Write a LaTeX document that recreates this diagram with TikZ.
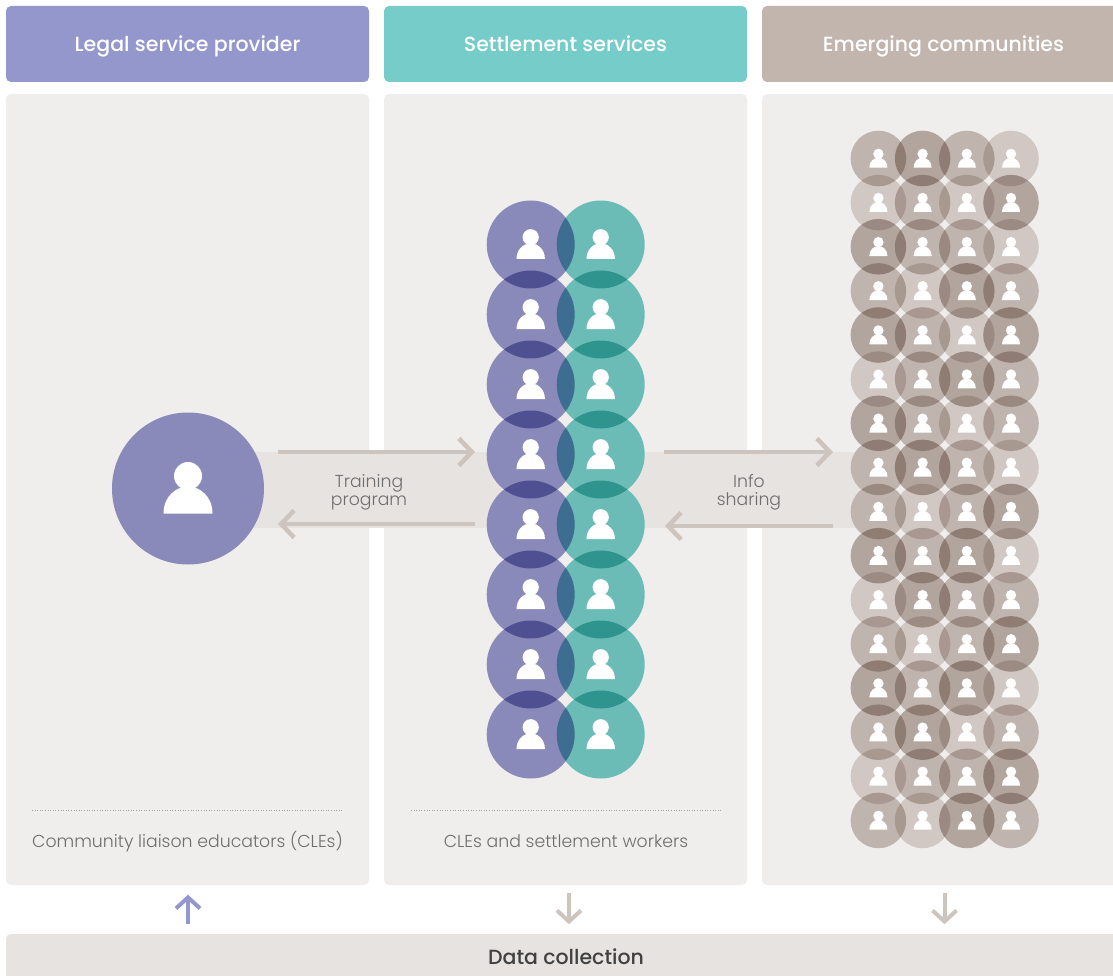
\documentclass[tikz,border=0pt]{standalone}
\usepackage{xcolor}
\usepackage{fontspec}
\setmainfont{Poppins Light}
\newfontfamily\headfont{Poppins Medium}
\usetikzlibrary{positioning, arrows.meta}

\definecolor{legalblue}{HTML}{9497CB}
\definecolor{settleteal}{HTML}{75CCC8}
\definecolor{communitytan}{HTML}{C1B5AE}
\definecolor{panelgrey}{HTML}{EFEEEC}
\definecolor{bandgrey}{HTML}{E7E3E0}
\definecolor{arrowtan}{HTML}{CDC4BE}
\definecolor{labelgrey}{HTML}{6E6E6E}
\definecolor{purplefill}{HTML}{8A8ABA}
\definecolor{purplemul}{HTML}{9394C9}
\definecolor{tealmul}{HTML}{73CAC6}
\definecolor{tanl}{HTML}{DFD7D4}
\definecolor{tanm}{HTML}{CDC2BD}
\definecolor{tand}{HTML}{BEB1AB}

\tikzset{
	headbox/.style={rectangle, rounded corners=5pt, minimum height=76pt, minimum width=363pt, inner sep=0pt},
	headtxt/.style={text=white, anchor=base, inner sep=0pt, font=\headfont\fontsize{20.5}{22}\selectfont},
	panelbox/.style={rectangle, rounded corners=5pt, fill=panelgrey, minimum height=791pt, minimum width=363pt, inner sep=0pt},
	bandbox/.style={rectangle, fill=bandgrey, minimum height=76pt, inner sep=0pt},
	label/.style={text=labelgrey, align=center, anchor=base, inner sep=0pt, font=\fontsize{17.3}{18}\selectfont},
	trainbig/.style={circle, fill=purplefill, minimum size=152pt, inner sep=0pt},
	purplec/.style={circle, fill=purplemul, minimum size=88pt, inner sep=0pt},
	tealc/.style={circle, fill=tealmul, minimum size=88pt, inner sep=0pt},
	brownl/.style={circle, fill=tanl, minimum size=55.6pt, inner sep=0pt},
	brownm/.style={circle, fill=tanm, minimum size=55.6pt, inner sep=0pt},
	brownd/.style={circle, fill=tand, minimum size=55.6pt, inner sep=0pt},
	flowarrow/.style={-{Straight Barb[length=13pt, width=27pt, line width=4.5pt]}, line width=4.5pt, draw=arrowtan},
	downarrow/.style={-{Straight Barb[length=11pt, width=24pt, line width=4pt]}, line width=4pt},
	personicon/.pic={
		\fill[white] (0,-12.5) circle (14);
		\fill[white] (-24.5,25) .. controls (-24.5,8) and (-12,-2) .. (0,-2) .. controls (12,-2) and (24.5,8) .. (24.5,25) -- cycle;
	}
}

\begin{document}
\begin{tikzpicture}[x=1pt, y=-1pt]
	\useasboundingbox (0,0) rectangle (1113,976);

	\node[headbox, fill=legalblue] (legal) at (187.5,44) {};
	\node[headbox, fill=settleteal] (settle) at (565.5,44) {};
	\node[headbox, fill=communitytan] (emerging) at (943.5,44) {};
	\node[headtxt] (legaltxt) at (187.5,52) {Legal service provider};
	\node[headtxt] (settletxt) at (565.5,52) {Settlement services};
	\node[headtxt] (emergingtxt) at (943.5,52) {Emerging communities};

	\node[panelbox] (panela) at (187.5,489.5) {};
	\node[panelbox] (panelb) at (565.5,489.5) {};
	\node[panelbox] (panelc) at (943.5,489.5) {};

	\node[bandbox, minimum width=256pt] (bandleft) at (378,489.5) {};
	\node[bandbox, minimum width=236pt] (bandright) at (744,489.5) {};

	\node[rectangle, rounded corners=5pt, fill=bandgrey, minimum width=1119pt, minimum height=56pt, inner sep=0pt] (databox) at (565.5,962) {};
	\node[headtxt, text=black!75] (datatxt) at (566,964) {Data collection};

	\coordinate (dota1) at (32,810);
	\coordinate (dota2) at (344,810);
	\coordinate (dotb1) at (411,810);
	\coordinate (dotb2) at (722,810);
	\draw[black!35, dotted, line width=0.6pt] (dota1) -- (dota2);
	\draw[black!35, dotted, line width=0.6pt] (dotb1) -- (dotb2);
	\node[label] (clea) at (187.5,847) {Community liaison educators (CLEs)};
	\node[label] (cleb) at (566,847) {CLEs and settlement workers};

	\node[label] (training) at (369,487) {Training};
	\node[label] (trainingb) at (369,505) {program};
	\node[label] (info) at (749,487) {Info};
	\node[label] (infob) at (749,505) {sharing};

	\node[trainbig] (educator) at (188,488.5) {};
	\pic at (educator) {personicon};

	% keep the band from showing through the circles
	\foreach \r in {4,5} {
		\fill[panelgrey] (530.7,{244.5+70*(\r-1)}) circle (44);
		\fill[panelgrey] (600.7,{244.5+70*(\r-1)}) circle (44);
	}
	\foreach \r in {7,...,10} {
		\fill[panelgrey] (878.4,{158.5+44.13*(\r-1)}) circle (27.8);
	}

	% the rows overlap, so they multiply
	\begin{scope}[blend mode=multiply]
		\foreach \r in {1,...,8} {
			\node[purplec] (p\r) at (530.7,{244.5+70*(\r-1)}) {};
			\node[tealc] (t\r) at (600.7,{244.5+70*(\r-1)}) {};
		}
		\foreach \rowlist [count=\r] in {{m,d,m,l},{l,m,l,d},{d,m,m,l},{m,l,d,m},
				{d,m,l,d},{l,m,d,m},{d,m,l,m},{m,d,m,l},
				{m,l,m,d},{d,m,d,l},{l,d,m,m},{m,l,m,d},
				{d,m,d,l},{m,d,l,m},{l,m,m,d},{m,l,d,m}} {
			\foreach \s [count=\c] in \rowlist {
				\node[brown\s] (g\r-\c) at ({878.4+44.2*(\c-1)},{158.5+44.13*(\r-1)}) {};
			}
		}
	\end{scope}

	\foreach \r in {1,...,8} {
		\pic[scale=.58] at (p\r) {personicon};
		\pic[scale=.58] at (t\r) {personicon};
	}
	\foreach \r in {1,...,16} {
		\foreach \c in {1,...,4} {
			\pic[scale=.37] at (g\r-\c) {personicon};
		}
	}

	\coordinate (trainup1) at (278,452);
	\coordinate (trainup2) at (475,452);
	\coordinate (traindown1) at (475,524);
	\coordinate (traindown2) at (278,524);
	\coordinate (infoup1) at (664,452);
	\coordinate (infoup2) at (833,452);
	\coordinate (infodown1) at (833,526);
	\coordinate (infodown2) at (665,526);
	\draw[flowarrow] (trainup1) -- (trainup2);
	\draw[flowarrow] (traindown1) -- (traindown2);
	\draw[flowarrow] (infoup1) -- (infoup2);
	\draw[flowarrow] (infodown1) -- (infodown2);

	\draw[downarrow, draw=legalblue] (panela.south) ++(0.5,39) coordinate (upfoot) -- ++(0,-29.5) coordinate (uptip);
	\draw[downarrow, draw=arrowtan] (panelb.south) ++(3.5,8) coordinate (downa) -- ++(0,31) coordinate (downb);
	\draw[downarrow, draw=arrowtan] (panelc.south) ++(1,8) coordinate (downc) -- ++(0,31) coordinate (downd);
\end{tikzpicture}
\end{document}
